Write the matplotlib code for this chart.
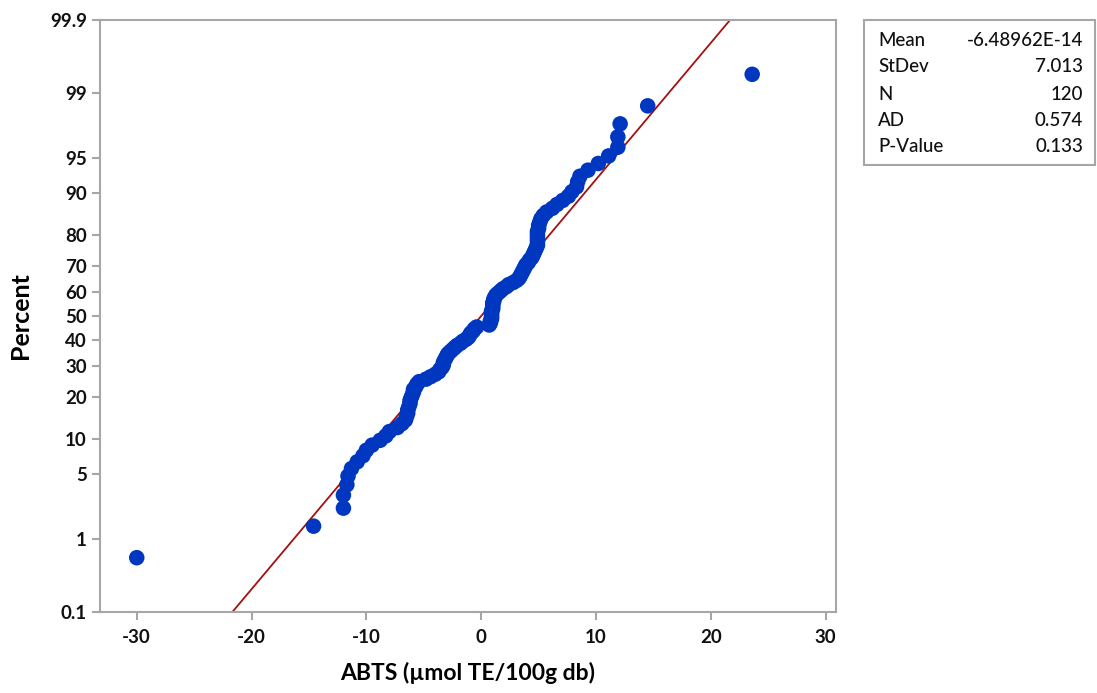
import matplotlib
matplotlib.use("Agg")
import matplotlib.pyplot as plt
from matplotlib.patches import Rectangle
from statistics import NormalDist

# Sorted residual values (ABTS, umol TE/100g db)
residuals = [
    -30.0, -14.6, -12.0, -12.0, -11.7, -11.6, -11.3, -10.8, -10.3, -10.0,
    -9.5, -8.8, -8.3, -8.0, -7.3, -6.9, -6.6, -6.5, -6.4, -6.4,
    -6.3, -6.2, -6.2, -6.1, -6.0, -5.9, -5.9, -5.7, -5.6, -5.4,
    -4.8, -4.4, -4.0, -3.7, -3.6, -3.4, -3.3, -3.3, -3.2, -3.1,
    -3.0, -2.9, -2.7, -2.5, -2.3, -2.1, -1.8, -1.6, -1.3, -1.1,
    -1.0, -0.9, -0.7, -0.6, -0.4, 0.7, 0.8, 0.8, 0.9, 0.9,
    0.9, 0.9, 0.9, 1.0, 1.0, 1.0, 1.0, 1.1, 1.1, 1.2,
    1.3, 1.5, 1.7, 1.9, 2.2, 2.4, 2.8, 3.1, 3.3, 3.4,
    3.5, 3.6, 3.7, 3.8, 3.9, 4.1, 4.2, 4.4, 4.5, 4.6,
    4.7, 4.8, 4.9, 4.9, 4.9, 4.9, 4.9, 4.9, 5.0, 5.0,
    5.1, 5.2, 5.4, 5.7, 6.2, 6.6, 7.1, 7.6, 7.9, 8.3,
    8.4, 8.6, 9.3, 10.2, 11.1, 11.9, 11.9, 12.1, 14.5, 23.6,
]

percent_ticks = [0.1, 1, 5, 10, 20, 30, 40, 50, 60, 70, 80, 90, 95, 99, 99.9]
percent_labels = ["0.1", "1", "5", "10", "20", "30", "40", "50", "60", "70",
                  "80", "90", "95", "99", "99.9"]
x_ticks = [-30, -20, -10, 0, 10, 20, 30]

stat_names = ["Mean", "StDev", "N", "AD", "P-Value"]
stat_values = ["-6.48962E-14", "7.013", "120", "0.574", "0.133"]
fit_mean = -6.48962e-14
fit_sd = 7.013

FONT = ["Lato", "DejaVu Sans"]

nd = NormalDist()
n = len(residuals)
xs = sorted(residuals)
zs = [nd.inv_cdf((i + 1 - 0.3) / (n + 0.4)) for i in range(n)]

fig = plt.figure(figsize=(10.97, 6.93), dpi=100)
ax = fig.add_axes([100 / 1097, 1 - 612 / 693, 736 / 1097, 592 / 693])

zlo = nd.inv_cdf(0.001)
zhi = nd.inv_cdf(0.999)

# fitted line
line_z = [zlo, zhi]
line_x = [fit_mean + fit_sd * z for z in line_z]
ax.plot(line_x, line_z, color="#a50f0f", lw=1.3, zorder=2)

ax.scatter(xs, zs, s=125, color="#0037c0", edgecolors="none", zorder=3)

ax.set_xlim(-33.2, 30.9)
ax.set_ylim(zlo, zhi)
ax.set_xticks(x_ticks)
ax.set_xticklabels([str(t) for t in x_ticks])
ax.set_yticks([nd.inv_cdf(p / 100) for p in percent_ticks])
ax.set_yticklabels(percent_labels)

for s in ax.spines.values():
    s.set_color("#a6a6a6")
    s.set_linewidth(1.5)
ax.tick_params(axis="both", colors="#a6a6a6", length=6, width=1.5,
               labelcolor="#111111", labelsize=13.5, direction="out")
ax.tick_params(axis="x", pad=6)
for lab in ax.get_xticklabels() + ax.get_yticklabels():
    lab.set_family(FONT)
    lab.set_fontweight("bold")

ax.set_xlabel("ABTS (µmol TE/100g db)", fontsize=16.5, family=FONT,
              fontweight="bold", labelpad=12)
ax.set_ylabel("Percent", fontsize=18, family=FONT, fontweight="bold",
              labelpad=13)

# statistics box
W, H = 1097, 693
rect = Rectangle((864 / W, 1 - 165 / H), (1095 - 864) / W, (165 - 20) / H,
                 transform=fig.transFigure, facecolor="white",
                 edgecolor="#a6a6a6", lw=1.5)
fig.patches.append(rect)
row_y = [41, 67, 94, 121, 147]
for name, val, y in zip(stat_names, stat_values, row_y):
    fig.text(878 / W, 1 - y / H, name, fontsize=13.5, family=FONT,
             fontweight="medium", color="#111111", ha="left", va="center")
    fig.text(1083 / W, 1 - y / H, val, fontsize=13.5, family=FONT,
             fontweight="medium", color="#111111", ha="right", va="center")

fig.savefig("out.png", dpi=100)
